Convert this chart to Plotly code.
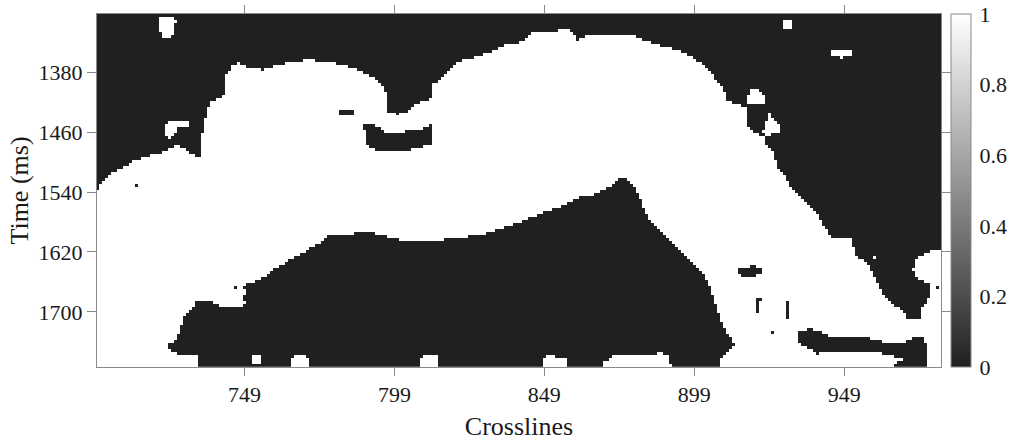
import numpy as np
import plotly.graph_objects as go

# ---- grid (crosslines, two-way time in ms) ----
crosslines = np.arange(700, 982)          # 282 traces
times_ms = np.arange(1304, 1773, 4)       # 4 ms sampling

x_ticks = [749, 799, 849, 899, 949]
y_ticks = [1380, 1460, 1540, 1620, 1700]
cbar_ticks = [0, 0.2, 0.4, 0.6, 0.8, 1]
cbar_labels = ["0", "0.2", "0.4", "0.6", "0.8", "1"]

# ---- class boundaries (crossline, time) ----
# upper background (value 0)
upper_bg_xl = [690, 700, 704.4, 708.9, 712.2, 715.4, 720, 723.3, 726.1, 728.8, 731.1, 734.4, 735, 736.7,
               737.8, 740, 742.2, 742.8, 745, 747.2, 751.1, 755.5, 758.9, 764.4, 771.1, 775.5, 782.2,
               786.7, 791.1, 793.3, 795.5, 796.7, 796.7, 800, 803.3, 805.5, 811.1, 811.7, 815, 817.8,
               820.5, 826.7, 831.1, 835.5, 841.7, 843.3, 845.5, 847.8, 851.7, 856.1, 858.9, 860, 862.8,
               868.9, 880, 882.2, 885, 888.9, 892.8, 896.7, 901.1, 904.4, 907.8, 910, 913.3, 916.7,
               916.7, 918.9, 922.2, 922.8, 925, 926.7, 930, 932.2, 933.3, 936.7, 940, 942.2, 945, 951.1,
               952.8, 956.7, 958.9, 961.1, 964.4, 968.9, 969.4, 973.9, 974.4, 976.7, 977.8, 977.2, 973.3,
               971.7, 972.8, 976.7, 980, 990, 990, 690]
upper_bg_ms = [1536.5, 1536.5, 1516.5, 1507.6, 1498.7, 1494.3, 1489.9, 1485.3, 1478.3, 1480.9, 1489.9,
               1494.3, 1463.2, 1427.6, 1418.3, 1414.3, 1409.9, 1383.2, 1372, 1367.6, 1374.3, 1376.5, 1372,
               1365.3, 1363.2, 1365.3, 1369.9, 1376.5, 1385.3, 1389.9, 1400.9, 1409.9, 1432, 1436.5, 1432,
               1423.2, 1414.3, 1396.5, 1387.6, 1374.3, 1365.3, 1358.7, 1352, 1344, 1338.7, 1332, 1326.3,
               1327.6, 1325.3, 1321.9, 1327.6, 1336.5, 1332, 1329.9, 1332, 1336.5, 1340.9, 1345.3, 1349.9,
               1356.5, 1367.6, 1380.9, 1396.5, 1416.5, 1423.2, 1425.3, 1454.3, 1463.2, 1465.3, 1476.5,
               1485.3, 1507.6, 1525.3, 1540.9, 1543.6, 1556.9, 1570.3, 1588, 1601.3, 1603.6, 1625.9,
               1634.7, 1654.7, 1672.5, 1688, 1701.3, 1710.3, 1710.3, 1699.2, 1685.9, 1668, 1663.6, 1656.9,
               1645.9, 1630.3, 1621.3, 1616.9, 1616.9, 1290, 1290]

# lower background (value 0)
lower_bg_xl = [733.9, 733.9, 727.2, 723.9, 722.2, 726.1, 727.2, 728.3, 729.4, 731.7, 733.3, 738.3, 742.8,
               747.8, 750, 748.3, 750, 747.8, 745, 754.4, 760, 764.4, 768.8, 773.3, 776.7, 784.4, 785.4,
               791.1, 794.4, 797.8, 801.1, 814.4, 822.2, 830, 833.3, 838.9, 843.3, 846.7, 850, 855, 857.8,
               861.1, 865.5, 868.9, 871.1, 875.5, 878.9, 880.5, 882.2, 884.4, 887.8, 888.9, 893.3, 897.8,
               901.7, 903.3, 904.4, 905.5, 906.7, 908.3, 910.5, 912.2, 910.5, 907.8, 907.2]
lower_bg_ms = [1790, 1759.2, 1759.2, 1750.3, 1745.9, 1739.2, 1728, 1712.5, 1703.6, 1694.7, 1685.9, 1688,
               1694.7, 1694.7, 1688, 1683.6, 1674.7, 1667.2, 1669.3, 1656.9, 1640.9, 1630.3, 1620.9,
               1610.3, 1599.6, 1599.6, 1594.3, 1594.3, 1598.3, 1601.3, 1604.9, 1604.9, 1600.5, 1596,
               1590.3, 1583.6, 1576.9, 1571.2, 1565.9, 1559.2, 1552.5, 1547.2, 1543.6, 1538.3, 1532.5,
               1518.7, 1532.5, 1543.6, 1565.9, 1579.2, 1594.7, 1599.2, 1616.9, 1632.5, 1648, 1659.2,
               1672.5, 1685.9, 1699.2, 1716.9, 1732.5, 1743.6, 1750.3, 1761.3, 1790]

# bottom-right background streak (value 0)
streak_xl = [933.3, 937.8, 940, 943.3, 951.1, 961.1, 962.1, 968.9, 972.2, 975, 976.1, 976.7, 975.5, 965.4,
             966.1, 970.5, 962.1, 961.1, 946.7, 940, 937.8, 934.4, 933.3]
streak_ms = [1727.3, 1722.3, 1725.9, 1732.5, 1734.7, 1736.9, 1740.9, 1741.3, 1735.6, 1734.7, 1743.6, 1770.3,
             1780, 1780, 1767.6, 1761.3, 1759.2, 1752.5, 1754, 1756.3, 1749.6, 1745.2, 1738.5]

# background pockets inside the body (value 0)
hole_xl = [788.9, 791.7, 794.4, 797.2, 800, 803.3, 807.8, 811.1, 811.7, 806.7, 803.3, 800, 794.4, 792.2, 790,
           789.4, 788.9]
hole_ms = [1450.3, 1450.3, 1456.9, 1463.6, 1461.3, 1459.2, 1456.9, 1450.3, 1476.9, 1481.3, 1485.9, 1488,
           1488, 1483.6, 1479.2, 1465.9, 1456.9]
dash_xl = [780.3, 785.2, 785.2, 780.3]
dash_ms = [1430, 1430, 1436.5, 1436.5]
ellipse_xl = [913, 915, 919, 921.2, 921.2, 918, 914.5]
ellipse_ms = [1647, 1641, 1639.5, 1643, 1650, 1654.5, 1653]
bar1_xl = [919.3, 921.5, 921.5, 920.8, 920.8, 919.3]
bar1_ms = [1680.5, 1680.5, 1686, 1686, 1701.5, 1701.5]
bar2_xl = [929.3, 930.6, 930.6, 929.3]
bar2_ms = [1687.5, 1687.5, 1710.5, 1710.5]
dots_black_xl = [924.8, 980.5, 713.5]
dots_black_ms = [1728, 1668, 1532]

# body fragments inside background (value 1)
blob1_xl = [721, 725, 726.2, 725.5, 724, 722, 720.5, 720.5]
blob1_ms = [1305.5, 1305.5, 1312, 1325, 1334.5, 1334.5, 1322, 1310]
blob2_xl = [722.2, 725, 730.2, 730.2, 726.3, 725.8, 723.5, 722.5]
blob2_ms = [1450, 1445, 1445, 1453, 1456.5, 1467, 1469.5, 1460]
blob3_xl = [928.3, 931.2, 931.2, 928.3]
blob3_ms = [1309.5, 1309.5, 1321, 1321]
blob4_xl = [944.3, 951.8, 951.8, 948.6, 948.6, 947.6, 947.6, 944.3]
blob4_ms = [1350, 1350, 1357.5, 1357.5, 1362, 1362, 1357.5, 1357.5]
blob5_xl = [918.9, 921, 922.3, 922.3, 916.8, 916.6, 917.5]
blob5_ms = [1400.5, 1405, 1410, 1422.5, 1423.5, 1412, 1405]
blob6_xl = [923.9, 925, 927.3, 927.1, 925, 922.8, 921.6, 923]
blob6_ms = [1433.5, 1440, 1453, 1460, 1462.5, 1466.5, 1460, 1448]
notch_a_xl = [751.5, 754.2, 754.2, 751.5]
notch_a_ms = [1760, 1760, 1770.5, 1770.5]
notch_b_xl = [764.8, 764.8, 766, 769.5, 770.6, 770.6]
notch_b_ms = [1780, 1763, 1758, 1758, 1763, 1780]
notch_c_xl = [807.7, 807.7, 809, 813, 814, 814]
notch_c_ms = [1780, 1763, 1758.5, 1758.5, 1763, 1780]
notch_d_xl = [848.8, 849, 851, 852.5, 856.7, 856.8]
notch_d_ms = [1780, 1762, 1757.5, 1760, 1761, 1780]
notch_e_xl = [868.5, 869, 872, 880, 888, 890, 891, 891.5]
notch_e_ms = [1780, 1768, 1760, 1758, 1755.5, 1758, 1768, 1780]
dots_white_xl = [959]
dots_white_ms = [1628]

# ---- rasterise classes on the grid ----
X, Y = np.meshgrid(crosslines.astype(float), times_ms.astype(float))


def inside(xs, ys):
    xs = np.asarray(xs, float)
    ys = np.asarray(ys, float)
    res = np.zeros(X.shape, bool)
    n = len(xs)
    j = n - 1
    for i in range(n):
        xi, yi, xj, yj = xs[i], ys[i], xs[j], ys[j]
        if yi != yj:
            cross = ((yi > Y) != (yj > Y)) & (X < (xj - xi) * (Y - yi) / (yj - yi) + xi)
            res ^= cross
        j = i
    return res


z = np.ones(X.shape)
for xs, ys in [(upper_bg_xl, upper_bg_ms), (lower_bg_xl, lower_bg_ms), (streak_xl, streak_ms),
               (hole_xl, hole_ms), (dash_xl, dash_ms), (ellipse_xl, ellipse_ms),
               (bar1_xl, bar1_ms), (bar2_xl, bar2_ms)]:
    z[inside(xs, ys)] = 0
for xs, ys in [(blob1_xl, blob1_ms), (blob2_xl, blob2_ms), (blob3_xl, blob3_ms), (blob4_xl, blob4_ms),
               (blob5_xl, blob5_ms), (blob6_xl, blob6_ms), (notch_a_xl, notch_a_ms),
               (notch_b_xl, notch_b_ms), (notch_c_xl, notch_c_ms), (notch_d_xl, notch_d_ms),
               (notch_e_xl, notch_e_ms)]:
    z[inside(xs, ys)] = 1


def nearest(xv, yv):
    return int(np.argmin(np.abs(times_ms - yv))), int(np.argmin(np.abs(crosslines - xv)))


for xv, yv in zip(dots_black_xl, dots_black_ms):
    z[nearest(xv, yv)] = 0
for xv, yv in zip(dots_white_xl, dots_white_ms):
    z[nearest(xv, yv)] = 1

FONT = "Liberation Serif, Times New Roman, serif"
AX = "#8a8a8a"

fig = go.Figure(go.Heatmap(
    x=crosslines, y=times_ms, z=z,
    zmin=0, zmax=1, zsmooth=False,
    colorscale=[[0, "#202020"], [1, "#ffffff"]],
    colorbar=dict(
        x=1.0115, xanchor="left", xpad=0, y=0.5, yanchor="middle", ypad=0,
        len=1, lenmode="fraction", thickness=20,
        outlinecolor=AX, outlinewidth=1,
        tickvals=cbar_ticks, ticktext=cbar_labels,
        ticks="outside", ticklen=4, tickcolor="rgba(0,0,0,0)",
        tickfont=dict(family=FONT, size=22, color="#1a1a1a"),
    ),
    hoverinfo="skip",
))

fig.update_layout(
    width=1014, height=446,
    margin=dict(l=97, r=73, t=14, b=79, autoexpand=False),
    paper_bgcolor="white", plot_bgcolor="white",
    font=dict(family=FONT, size=22, color="#1a1a1a"),
)
fig.update_xaxes(
    range=[699.8, 981.3], tickvals=x_ticks, ticktext=[str(v) for v in x_ticks],
    ticks="outside", ticklen=8, tickcolor=AX, showline=True, linecolor=AX, linewidth=1,
    mirror="allticks", showgrid=False, zeroline=False, automargin=False,
    title=dict(text="Crosslines", font=dict(family=FONT, size=26), standoff=10),
    tickfont=dict(family=FONT, size=22),
)
fig.update_yaxes(
    range=[1773.7, 1302.3], tickvals=y_ticks, ticktext=[str(v) for v in y_ticks],
    ticks="outside", ticklen=9, tickcolor=AX, showline=True, linecolor=AX, linewidth=1,
    mirror="allticks", showgrid=False, zeroline=False, automargin=False,
    title=dict(text="Time (ms)", font=dict(family=FONT, size=26), standoff=2),
    tickfont=dict(family=FONT, size=22),
)

fig.write_html("out.html", config={"displayModeBar": False, "staticPlot": True},
               post_script="document.body.style.margin='0';document.body.style.overflow='hidden';")
